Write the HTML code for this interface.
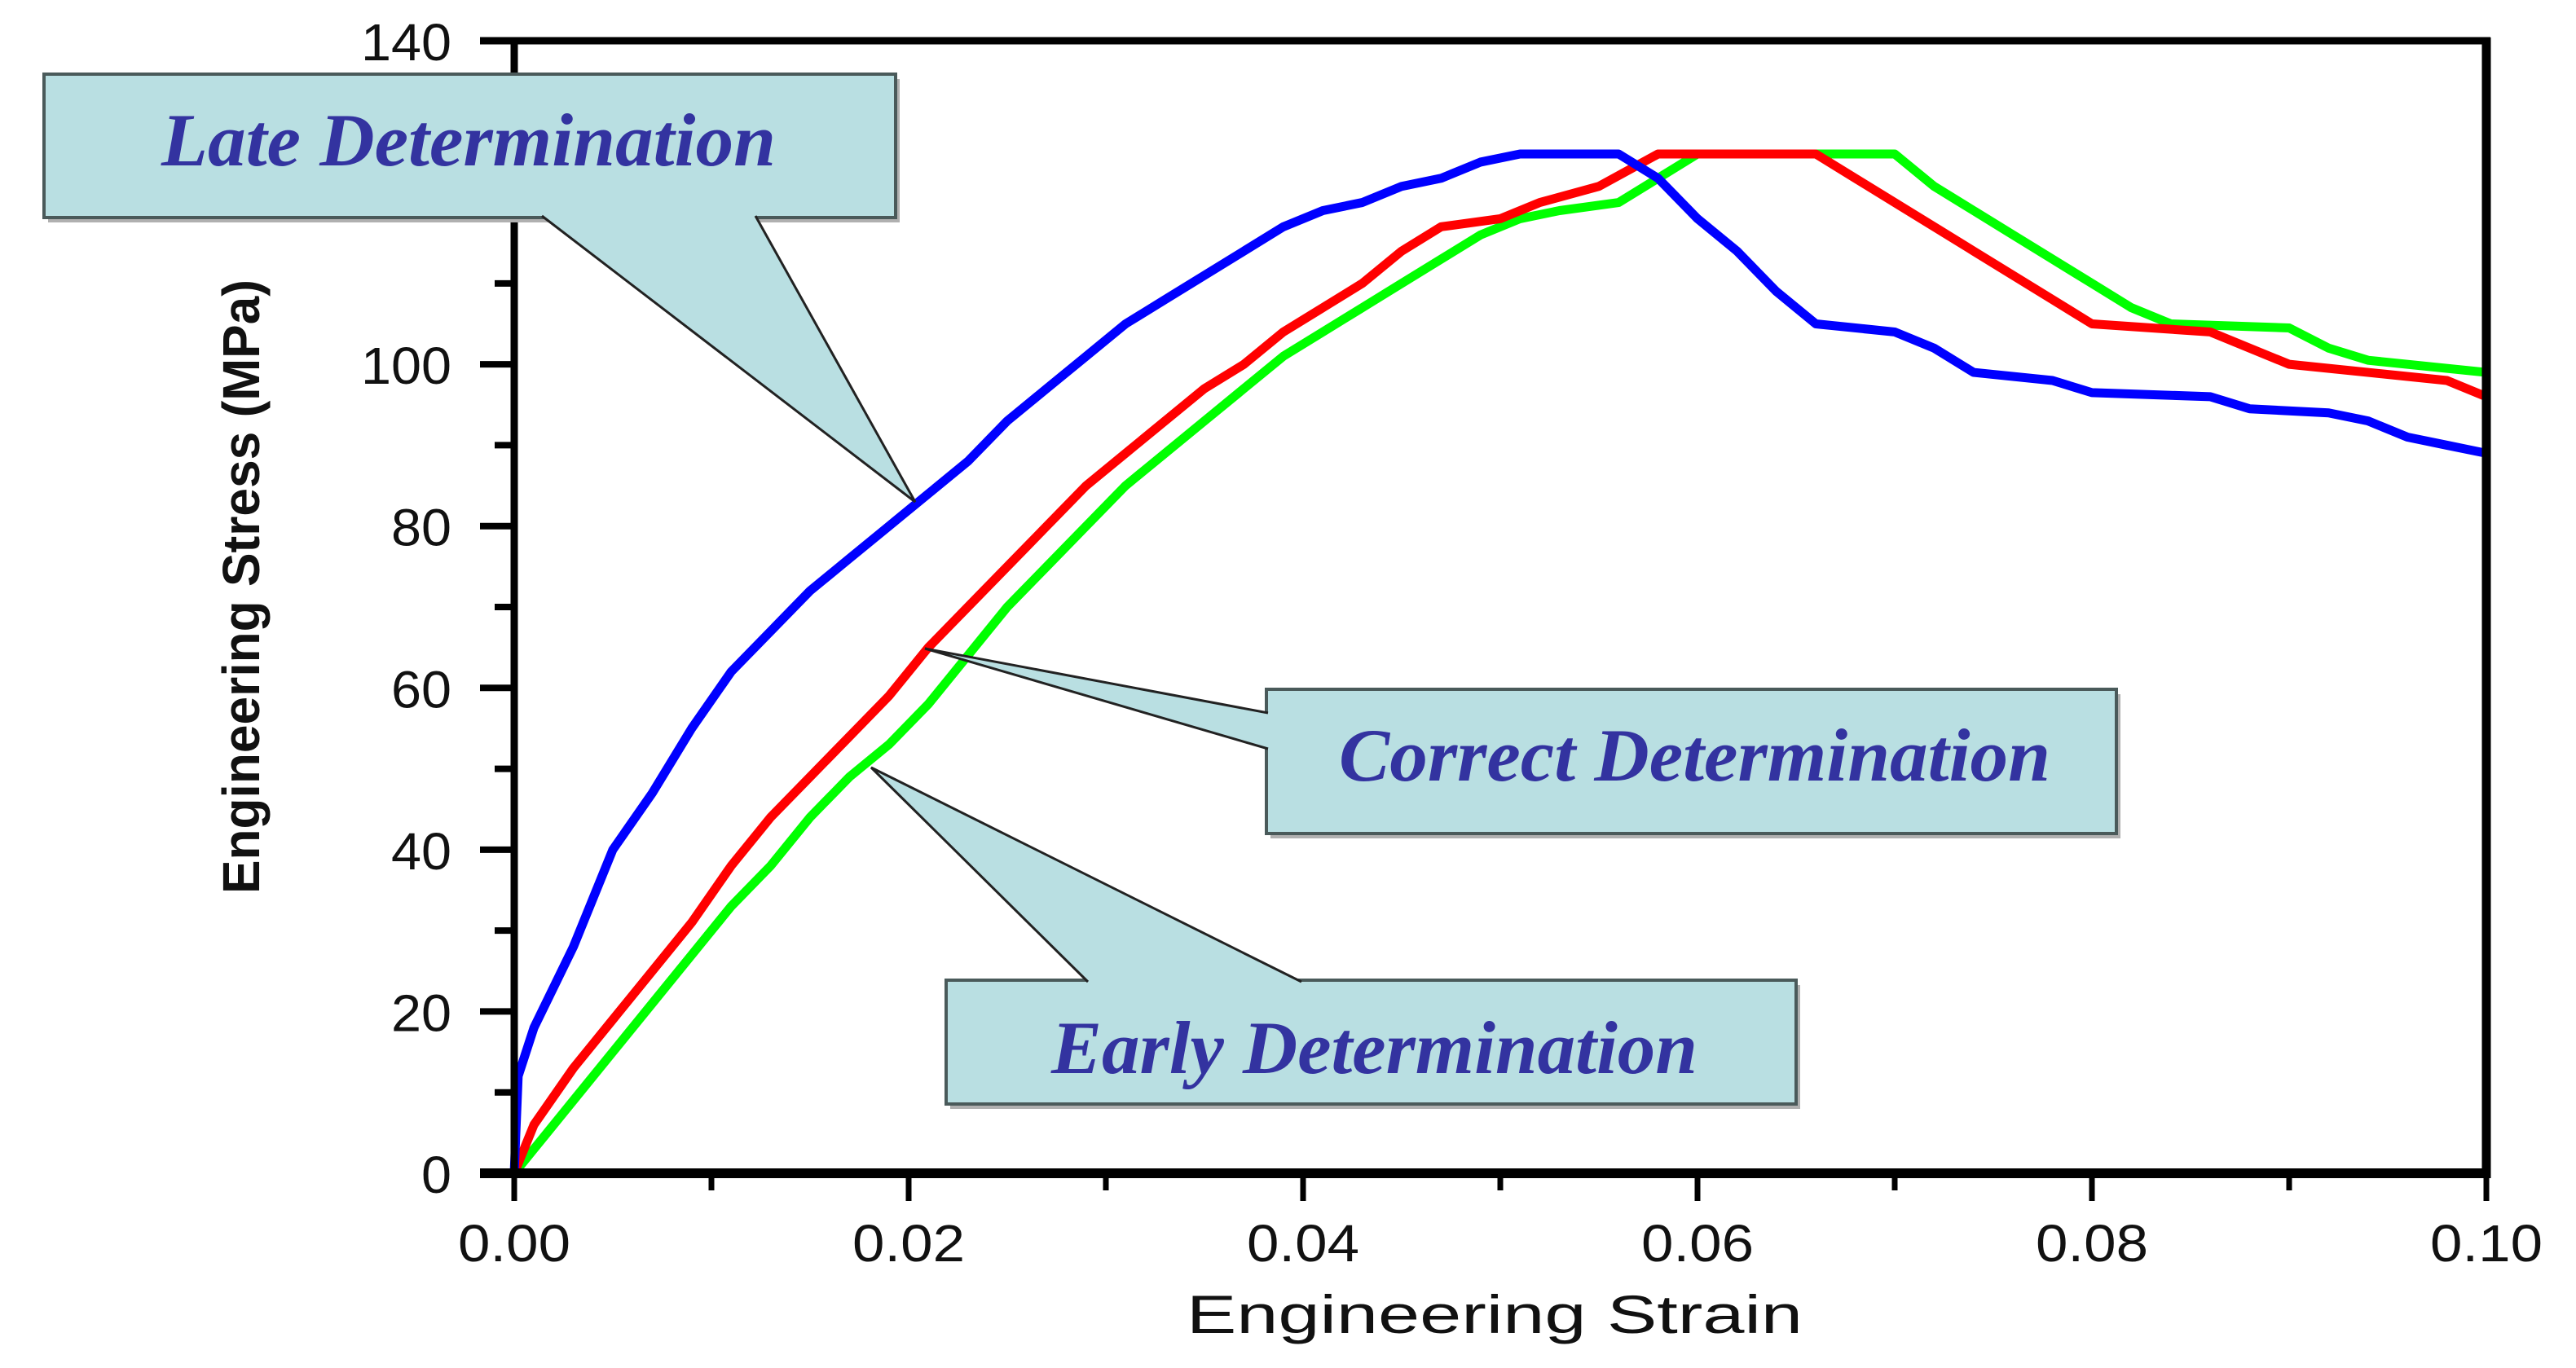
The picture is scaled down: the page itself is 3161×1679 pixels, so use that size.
<!DOCTYPE html>
<html><head><meta charset="utf-8"><style>
html,body{margin:0;padding:0;background:#fff;}
svg{display:block;}
</style></head><body>
<svg id="chart" width="3161" height="1679" viewBox="0 0 3161 1679" xmlns="http://www.w3.org/2000/svg">
<g id="series"></g>
<g id="axes"></g>
<g id="callouts"></g>
</svg>
<script>
const xTicks = [0, 0.02, 0.04, 0.06, 0.08, 0.10];
const xTickLabels = ["0.00", "0.02", "0.04", "0.06", "0.08", "0.10"];
const yTicks = [0, 20, 40, 60, 80, 100, 140];
const yTickLabels = ["0", "20", "40", "60", "80", "100", "140"];
const blueStrain = [0,0.0002,0.001,0.003,0.005,0.007,0.009,0.011,0.013,0.015,0.017,0.019,0.021,0.023,0.025,0.027,0.029,0.031,0.033,0.035,0.037,0.039,0.041,0.043,0.045,0.047,0.049,0.051,0.056,0.058,0.060,0.062,0.064,0.066,0.070,0.072,0.074,0.078,0.080,0.086,0.088,0.092,0.094,0.096,0.098,0.100];
const blueStress = [0,12,18,28,40,47,55,62,67,72,76,80,84,88,93,97,101,105,108,111,114,117,119,120,122,123,125,126,126,123,118,114,109,105,104,102,99,98,96.5,96,94.5,94,93,91,90,89];
const redStrain = [0,0.001,0.003,0.005,0.007,0.009,0.011,0.013,0.015,0.017,0.019,0.021,0.023,0.025,0.027,0.029,0.031,0.033,0.035,0.037,0.039,0.041,0.043,0.045,0.047,0.050,0.052,0.055,0.058,0.066,0.068,0.070,0.072,0.074,0.076,0.078,0.080,0.086,0.088,0.090,0.094,0.098,0.100];
const redStress = [0,6,13,19,25,31,38,44,49,54,59,65,70,75,80,85,89,93,97,100,104,107,110,114,117,118,120,122,126,126,123,120,117,114,111,108,105,104,102,100,99,98,96];
const greenStrain = [0,0.001,0.003,0.005,0.007,0.009,0.011,0.013,0.015,0.017,0.019,0.021,0.023,0.025,0.027,0.029,0.031,0.033,0.035,0.037,0.039,0.041,0.043,0.045,0.047,0.049,0.051,0.053,0.056,0.058,0.060,0.070,0.072,0.074,0.076,0.078,0.080,0.082,0.084,0.090,0.092,0.094,0.100];
const greenStress = [0,3,9,15,21,27,33,38,44,49,53,58,64,70,75,80,85,89,93,97,101,104,107,110,113,116,118,119,120,123,126,126,122,119,116,113,110,107,105,104.5,102,100.5,99];

const NS = "http://www.w3.org/2000/svg";
const L = 631, R = 3051, T = 50, B = 1440;
const xs = s => L + s / 0.1 * (R - L);
const ys = v => B - v / 140 * (B - T);
function mk(tag, attrs, parent) {
  const e = document.createElementNS(NS, tag);
  for (const k in attrs) e.setAttribute(k, attrs[k]);
  parent.appendChild(e);
  return e;
}
const series = document.getElementById('series');
function drawSeries(sx, sy, color, name) {
  let d = "M" + xs(sx[0]) + "," + ys(sy[0]);
  for (let i = 1; i < sx.length; i++) {
    d += " L" + xs(sx[i]) + "," + ys(sy[i]);
  }
  const p = mk('path', {d: d, fill: 'none', stroke: color, 'stroke-width': 11, 'stroke-linejoin': 'round'}, series);
  
  
}
drawSeries(greenStrain, greenStress, '#00ff00', 'early-determination-line');
drawSeries(redStrain, redStress, '#ff0000', 'correct-determination-line');
drawSeries(blueStrain, blueStress, '#0000ff', 'late-determination-line');

const axes = document.getElementById('axes');
let f;
f = mk('line', {x1: 589, y1: T, x2: R + 5, y2: T, stroke: '#000', 'stroke-width': 9}, axes);


f = mk('line', {x1: R, y1: T - 4, x2: R, y2: B + 6, stroke: '#000', 'stroke-width': 11}, axes);


f = mk('line', {x1: L, y1: T, x2: L, y2: B, stroke: '#000', 'stroke-width': 9}, axes);


f = mk('line', {x1: 589, y1: B, x2: R + 5, y2: B, stroke: '#000', 'stroke-width': 12}, axes);


for (let v = 10; v < 140; v += 10) {
  const major = v % 20 === 0;
  const t = mk('line', {x1: major ? 589 : 607, y1: ys(v), x2: L, y2: ys(v), stroke: '#000', 'stroke-width': 8}, axes);
  
  
}
yTicks.forEach((v, i) => {
  const t = mk('text', {x: 554, y: ys(v) + 24, 'text-anchor': 'end', 'font-family': 'Liberation Sans Narrow, Liberation Sans, sans-serif', 'font-size': 64, fill: '#111', textLength: yTickLabels[i].length * 37, lengthAdjust: 'spacingAndGlyphs'}, axes);
  t.textContent = yTickLabels[i];
  
  
});
for (let k = 0; k <= 10; k++) {
  const s = k * 0.01;
  const major = k % 2 === 0;
  const t = mk('line', {x1: xs(s), y1: B, x2: xs(s), y2: major ? 1474 : 1461, stroke: '#000', 'stroke-width': 7}, axes);
  
  
}
xTicks.forEach((s, i) => {
  const t = mk('text', {x: xs(s), y: 1548, 'text-anchor': 'middle', 'font-family': 'Liberation Sans Narrow, Liberation Sans, sans-serif', 'font-size': 64, fill: '#111', textLength: 138, lengthAdjust: 'spacingAndGlyphs'}, axes);
  t.textContent = xTickLabels[i];
  
  
});
let tt = mk('text', {x: 1834, y: 1636, 'text-anchor': 'middle', 'font-family': 'Liberation Sans, sans-serif', 'font-size': 66, fill: '#111', textLength: 756, lengthAdjust: 'spacingAndGlyphs'}, axes);
tt.textContent = 'Engineering Strain';


tt = mk('text', {x: 0, y: 0, 'text-anchor': 'middle', 'font-family': 'Liberation Sans, sans-serif', 'font-size': 64, 'font-weight': 'bold', fill: '#111', textLength: 754, lengthAdjust: 'spacingAndGlyphs', transform: 'translate(318,720) rotate(-90)'}, axes);
tt.textContent = 'Engineering Stress (MPa)';



const co = document.getElementById('callouts');
function callout(name, x1, y1, x2, y2, ptr, text, tx, ty, tlen) {
  const g = mk('g', {}, co);
  
  
  mk('rect', {x: x1 + 5, y: y1 + 6, width: x2 - x1, height: y2 - y1, fill: '#b0b0b0'}, g);
  mk('rect', {x: x1, y: y1, width: x2 - x1, height: y2 - y1, fill: '#b9dfe2', stroke: '#4a5a5a', 'stroke-width': 4}, g);
  mk('polygon', {points: ptr, fill: '#b9dfe2', stroke: 'none'}, g);
  mk('polyline', {points: ptr, fill: 'none', stroke: '#222', 'stroke-width': 3}, g);
  const t = mk('text', {x: tx, y: ty, 'font-family': 'Liberation Serif, serif', 'font-style': 'italic', 'font-weight': 'bold', 'font-size': 92, fill: '#3333a0', textLength: tlen, lengthAdjust: 'spacingAndGlyphs'}, g);
  t.textContent = text;
}
callout('late-determination-callout', 54, 91, 1099, 267, '665,265 1123,616 927,265', 'Late Determination', 198, 203, 754);
callout('correct-determination-callout', 1554, 846, 2597, 1023, '1556,875 1135,796 1556,919', 'Correct Determination', 1643, 958, 873);
callout('early-determination-callout', 1161, 1203, 2204, 1355, '1335,1205 1069,942 1597,1205', 'Early Determination', 1290, 1317, 793);
</script>
</body></html>
